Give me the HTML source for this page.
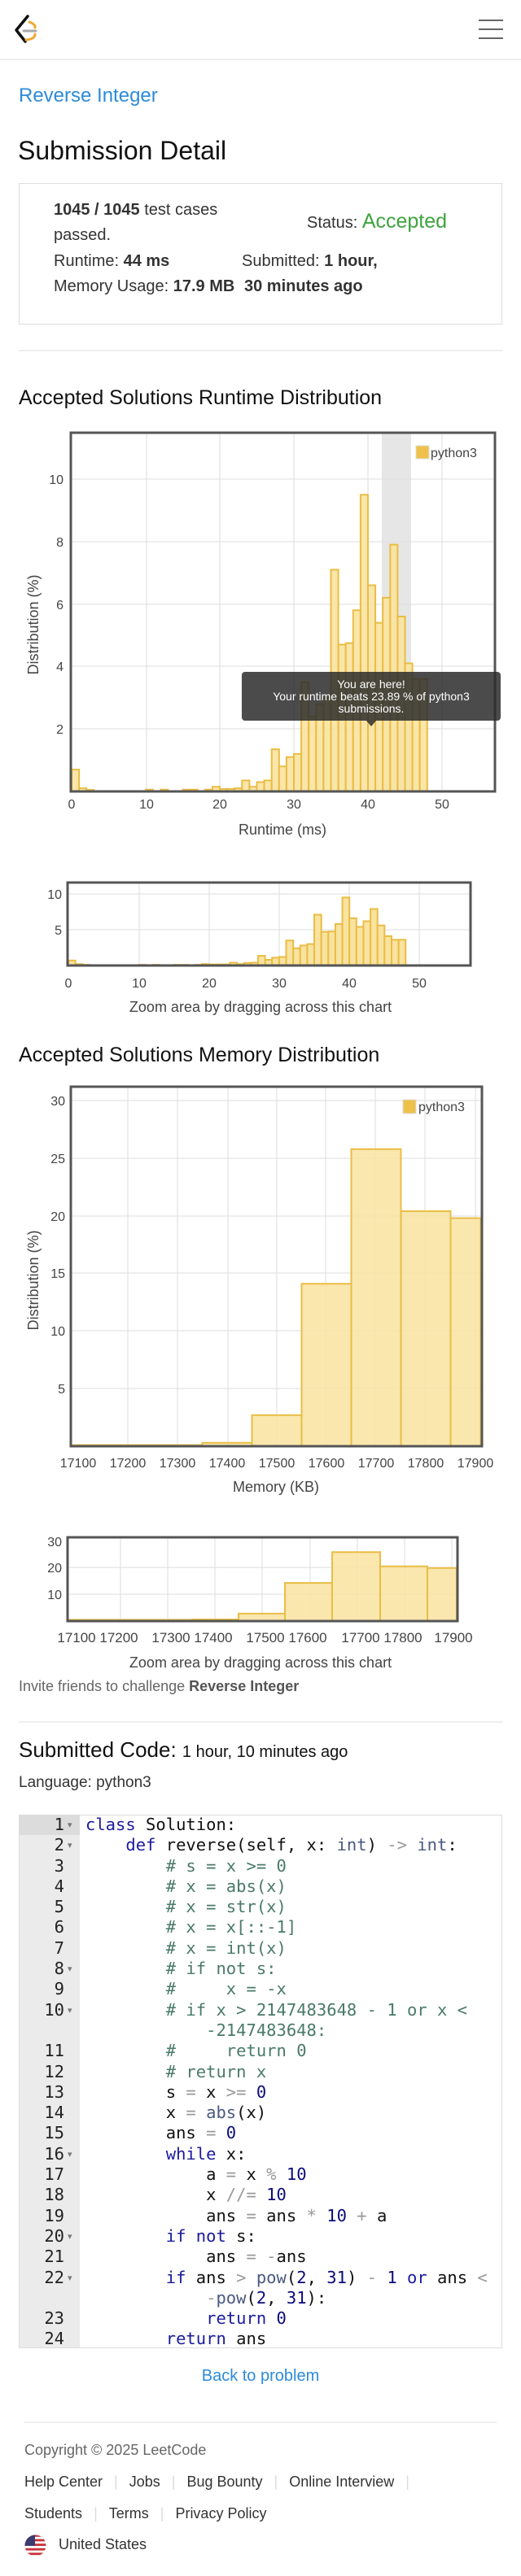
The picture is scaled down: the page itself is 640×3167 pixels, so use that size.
<!DOCTYPE html>
<html><head><meta charset="utf-8"><style>
*{margin:0;padding:0;box-sizing:border-box}
body{width:640px;height:3167px;position:relative;background:#fff;font-family:"Liberation Sans",sans-serif;color:#222;overflow:hidden}
.a{position:absolute;white-space:nowrap}
.code{font-family:"DejaVu Sans Mono","Liberation Mono",monospace;font-size:20.5px;line-height:25.3px;white-space:pre}
.k{color:#1b1b9e}.c{color:#4a7a6a}.n{color:#0b0b7a}.b{color:#4a5a80}.o{color:#999}
.f{font-size:18px;color:#333}
.sep{color:#ddd;margin:0 14px}
.fa{position:absolute;left:83px;font-size:11px;color:#777;line-height:12px}
</style></head><body>
<svg class="a" style="left:0;top:0" width="640" height="80">
<path d="M34 20 L20 37 L31 51" fill="none" stroke="#111" stroke-width="3.5" stroke-linecap="round" stroke-linejoin="round"/>
<path d="M36 27 Q44 30 43 34" fill="none" stroke="#f0a932" stroke-width="3" stroke-linecap="round"/>
<path d="M32 49 Q43 48 43 42" fill="none" stroke="#f0a932" stroke-width="3" stroke-linecap="round"/>
<line x1="29" y1="38" x2="44" y2="38" stroke="#aaa" stroke-width="3" stroke-linecap="round"/>
<line x1="588" y1="25" x2="618" y2="25" stroke="#666" stroke-width="2"/>
<line x1="588" y1="36" x2="618" y2="36" stroke="#666" stroke-width="2"/>
<line x1="588" y1="47" x2="618" y2="47" stroke="#666" stroke-width="2"/>
</svg>
<div class="a" style="left:0;top:72px;width:640px;height:2px;background:#eee"></div>
<div class="a" style="left:23px;top:104px;font-size:24px;color:#2d8bd8">Reverse Integer</div>
<div class="a" style="left:22px;top:167px;font-size:32px;color:#111">Submission Detail</div>
<div class="a" style="left:23px;top:225px;width:594px;height:174px;border:1.5px solid #ddd"></div>
<div class="a" style="left:66px;top:247px;font-size:20px;color:#333"><b>1045 / 1045</b> test cases</div>
<div class="a" style="left:66px;top:278px;font-size:20px;color:#333">passed.</div>
<div class="a" style="left:377px;top:258px;font-size:20px;color:#333">Status: <span style="color:#3fa33f;font-size:25px">Accepted</span></div>
<div class="a" style="left:66px;top:310px;font-size:20px;color:#333">Runtime: <b>44 ms</b></div>
<div class="a" style="left:297px;top:310px;font-size:20px;color:#333">Submitted: <b>1 hour,</b></div>
<div class="a" style="left:66px;top:341px;font-size:20px;color:#333">Memory Usage: <b>17.9 MB</b></div>
<div class="a" style="left:300px;top:341px;font-size:20px;color:#333"><b>30 minutes ago</b></div>
<div class="a" style="left:23px;top:430px;width:594px;height:1.5px;background:#eee"></div>
<div class="a" style="left:23px;top:475px;font-size:25px;color:#111">Accepted Solutions Runtime Distribution</div>
<div class="a" style="left:23px;top:1283px;font-size:25px;color:#111">Accepted Solutions Memory Distribution</div>

<svg class="a" style="left:0;top:0" width="640" height="2100" font-family="Liberation Sans, sans-serif">
<rect x="469" y="533" width="36" height="440" fill="#e6e6e6"/>
<g stroke="#ddd" stroke-width="1">
<line x1="180" y1="532" x2="180" y2="973"/><line x1="270" y1="532" x2="270" y2="973"/><line x1="361" y1="532" x2="361" y2="973"/><line x1="452" y1="532" x2="452" y2="973"/><line x1="543" y1="532" x2="543" y2="973"/>
<line x1="87" y1="589" x2="608" y2="589"/><line x1="87" y1="666" x2="608" y2="666"/><line x1="87" y1="743" x2="608" y2="743"/><line x1="87" y1="819" x2="608" y2="819"/><line x1="87" y1="896" x2="608" y2="896"/>
</g>
<g transform="translate(88,973) scale(9.1,-38.4)" fill="#f9e3a0" fill-opacity="0.9" stroke="#e9bd45" stroke-width="2">
<rect x="0" y="0" width="1" height="0.7" vector-effect="non-scaling-stroke"/><rect x="1" y="0" width="1" height="0.1" vector-effect="non-scaling-stroke"/><rect x="2" y="0" width="1" height="0.05" vector-effect="non-scaling-stroke"/>
<rect x="10" y="0" width="1" height="0.06" vector-effect="non-scaling-stroke"/><rect x="12" y="0" width="1" height="0.06" vector-effect="non-scaling-stroke"/><rect x="15" y="0" width="1" height="0.06" vector-effect="non-scaling-stroke"/><rect x="16" y="0" width="1" height="0.06" vector-effect="non-scaling-stroke"/><rect x="18" y="0" width="1" height="0.06" vector-effect="non-scaling-stroke"/>
<rect x="19" y="0" width="1" height="0.15" vector-effect="non-scaling-stroke"/><rect x="20" y="0" width="1" height="0.08" vector-effect="non-scaling-stroke"/><rect x="21" y="0" width="1" height="0.08" vector-effect="non-scaling-stroke"/><rect x="22" y="0" width="1" height="0.1" vector-effect="non-scaling-stroke"/><rect x="23" y="0" width="1" height="0.35" vector-effect="non-scaling-stroke"/><rect x="24" y="0" width="1" height="0.15" vector-effect="non-scaling-stroke"/><rect x="25" y="0" width="1" height="0.3" vector-effect="non-scaling-stroke"/><rect x="26" y="0" width="1" height="0.35" vector-effect="non-scaling-stroke"/>
<rect x="27" y="0" width="1" height="1.35" vector-effect="non-scaling-stroke"/><rect x="28" y="0" width="1" height="0.8" vector-effect="non-scaling-stroke"/><rect x="29" y="0" width="1" height="1.1" vector-effect="non-scaling-stroke"/><rect x="30" y="0" width="1" height="1.2" vector-effect="non-scaling-stroke"/>
<rect x="31" y="0" width="1" height="3.5" vector-effect="non-scaling-stroke"/><rect x="32" y="0" width="1" height="2.4" vector-effect="non-scaling-stroke"/><rect x="33" y="0" width="1" height="2.8" vector-effect="non-scaling-stroke"/><rect x="34" y="0" width="1" height="3.0" vector-effect="non-scaling-stroke"/>
<rect x="35" y="0" width="1" height="7.1" vector-effect="non-scaling-stroke"/><rect x="36" y="0" width="1" height="4.7" vector-effect="non-scaling-stroke"/><rect x="37" y="0" width="1" height="4.75" vector-effect="non-scaling-stroke"/><rect x="38" y="0" width="1" height="5.8" vector-effect="non-scaling-stroke"/><rect x="39" y="0" width="1" height="9.5" vector-effect="non-scaling-stroke"/><rect x="40" y="0" width="1" height="6.6" vector-effect="non-scaling-stroke"/><rect x="41" y="0" width="1" height="5.4" vector-effect="non-scaling-stroke"/><rect x="42" y="0" width="1" height="6.2" vector-effect="non-scaling-stroke"/><rect x="43" y="0" width="1" height="7.9" vector-effect="non-scaling-stroke"/><rect x="44" y="0" width="1" height="5.6" vector-effect="non-scaling-stroke"/><rect x="45" y="0" width="1" height="4.1" vector-effect="non-scaling-stroke"/><rect x="46" y="0" width="1" height="3.6" vector-effect="non-scaling-stroke"/><rect x="47" y="0" width="1" height="3.6" vector-effect="non-scaling-stroke"/>
</g>
<rect x="87" y="532" width="521" height="441" fill="none" stroke="#555" stroke-width="3"/>
<rect x="511" y="548" width="16" height="16" fill="#eec14a" stroke="#ddd"/>
<text x="529" y="562" font-size="16" fill="#444">python3</text>
<g font-size="16" fill="#444" text-anchor="end"><text x="78" y="595">10</text><text x="78" y="672">8</text><text x="78" y="749">6</text><text x="78" y="825">4</text><text x="78" y="902">2</text></g>
<g font-size="16" fill="#444" text-anchor="middle"><text x="88" y="994">0</text><text x="180" y="994">10</text><text x="270" y="994">20</text><text x="361" y="994">30</text><text x="452" y="994">40</text><text x="543" y="994">50</text></g>
<text x="347" y="1026" font-size="18" fill="#444" text-anchor="middle">Runtime (ms)</text>
<text transform="translate(47,768) rotate(-90)" font-size="18" fill="#444" text-anchor="middle">Distribution (%)</text>
<rect x="297" y="826" width="318" height="60" rx="4" fill="#2c2c2c" fill-opacity="0.85"/>
<path d="M450 886 L462 886 L456 893 Z" fill="#2c2c2c" fill-opacity="0.85"/>
<g font-size="14" fill="#fff" text-anchor="middle"><text x="456" y="846">You are here!</text><text x="456" y="861">Your runtime beats 23.89 % of python3</text><text x="456" y="876">submissions.</text></g>

<g stroke="#ddd"><line x1="171" y1="1084" x2="171" y2="1187"/><line x1="257" y1="1084" x2="257" y2="1187"/><line x1="343" y1="1084" x2="343" y2="1187"/><line x1="429" y1="1084" x2="429" y2="1187"/><line x1="515" y1="1084" x2="515" y2="1187"/><line x1="83" y1="1099" x2="578" y2="1099"/><line x1="83" y1="1143" x2="578" y2="1143"/></g>
<g transform="translate(84,1187) scale(8.63,-8.8)" fill="#f9e3a0" stroke="#e9bd45" stroke-width="2">
<rect x="0" y="0" width="1" height="0.7" vector-effect="non-scaling-stroke"/><rect x="1" y="0" width="1" height="0.2" vector-effect="non-scaling-stroke"/><rect x="2" y="0" width="1" height="0.1" vector-effect="non-scaling-stroke"/>
<rect x="10" y="0" width="1" height="0.1" vector-effect="non-scaling-stroke"/><rect x="12" y="0" width="1" height="0.1" vector-effect="non-scaling-stroke"/><rect x="15" y="0" width="2" height="0.1" vector-effect="non-scaling-stroke"/><rect x="18" y="0" width="1" height="0.1" vector-effect="non-scaling-stroke"/>
<rect x="19" y="0" width="1" height="0.2" vector-effect="non-scaling-stroke"/><rect x="20" y="0" width="3" height="0.15" vector-effect="non-scaling-stroke"/><rect x="23" y="0" width="1" height="0.4" vector-effect="non-scaling-stroke"/><rect x="24" y="0" width="1" height="0.2" vector-effect="non-scaling-stroke"/><rect x="25" y="0" width="1" height="0.35" vector-effect="non-scaling-stroke"/><rect x="26" y="0" width="1" height="0.4" vector-effect="non-scaling-stroke"/>
<rect x="27" y="0" width="1" height="1.35" vector-effect="non-scaling-stroke"/><rect x="28" y="0" width="1" height="0.8" vector-effect="non-scaling-stroke"/><rect x="29" y="0" width="1" height="1.1" vector-effect="non-scaling-stroke"/><rect x="30" y="0" width="1" height="1.2" vector-effect="non-scaling-stroke"/>
<rect x="31" y="0" width="1" height="3.5" vector-effect="non-scaling-stroke"/><rect x="32" y="0" width="1" height="2.4" vector-effect="non-scaling-stroke"/><rect x="33" y="0" width="1" height="2.8" vector-effect="non-scaling-stroke"/><rect x="34" y="0" width="1" height="3.0" vector-effect="non-scaling-stroke"/>
<rect x="35" y="0" width="1" height="7.1" vector-effect="non-scaling-stroke"/><rect x="36" y="0" width="1" height="4.7" vector-effect="non-scaling-stroke"/><rect x="37" y="0" width="1" height="4.75" vector-effect="non-scaling-stroke"/><rect x="38" y="0" width="1" height="5.8" vector-effect="non-scaling-stroke"/><rect x="39" y="0" width="1" height="9.5" vector-effect="non-scaling-stroke"/><rect x="40" y="0" width="1" height="6.6" vector-effect="non-scaling-stroke"/><rect x="41" y="0" width="1" height="5.4" vector-effect="non-scaling-stroke"/><rect x="42" y="0" width="1" height="6.2" vector-effect="non-scaling-stroke"/><rect x="43" y="0" width="1" height="7.9" vector-effect="non-scaling-stroke"/><rect x="44" y="0" width="1" height="5.6" vector-effect="non-scaling-stroke"/><rect x="45" y="0" width="1" height="4.1" vector-effect="non-scaling-stroke"/><rect x="46" y="0" width="1" height="3.6" vector-effect="non-scaling-stroke"/><rect x="47" y="0" width="1" height="3.6" vector-effect="non-scaling-stroke"/>
</g>
<rect x="83" y="1085" width="495" height="102" fill="none" stroke="#555" stroke-width="3"/>
<g font-size="16" fill="#444" text-anchor="end"><text x="76" y="1105">10</text><text x="76" y="1149">5</text></g>
<g font-size="16" fill="#444" text-anchor="middle"><text x="84" y="1214">0</text><text x="171" y="1214">10</text><text x="257" y="1214">20</text><text x="343" y="1214">30</text><text x="429" y="1214">40</text><text x="515" y="1214">50</text></g>
<text x="320" y="1244" font-size="18" fill="#444" text-anchor="middle">Zoom area by dragging across this chart</text>

<g stroke="#ddd"><line x1="157" y1="1336" x2="157" y2="1778"/><line x1="218" y1="1336" x2="218" y2="1778"/><line x1="280" y1="1336" x2="280" y2="1778"/><line x1="340" y1="1336" x2="340" y2="1778"/><line x1="400" y1="1336" x2="400" y2="1778"/><line x1="461" y1="1336" x2="461" y2="1778"/><line x1="522" y1="1336" x2="522" y2="1778"/><line x1="584" y1="1336" x2="584" y2="1778"/>
<line x1="87" y1="1353" x2="592" y2="1353"/><line x1="87" y1="1424" x2="592" y2="1424"/><line x1="87" y1="1495" x2="592" y2="1495"/><line x1="87" y1="1565" x2="592" y2="1565"/><line x1="87" y1="1636" x2="592" y2="1636"/><line x1="87" y1="1707" x2="592" y2="1707"/></g>
<g fill="#f9e3a0" fill-opacity="0.85" stroke="#e9bd45" stroke-width="2">
<rect x="88" y="1776.6" width="160.5" height="1.4"/><rect x="248.5" y="1773.8" width="61" height="4.2"/><rect x="309.5" y="1739.8" width="61" height="38.2"/><rect x="370.5" y="1578.3" width="61" height="199.7"/><rect x="431.5" y="1412.7" width="61" height="365.3"/><rect x="492.5" y="1489.1" width="61" height="288.9"/><rect x="553.5" y="1497.6" width="37" height="280.4"/>
</g>
<rect x="87" y="1336" width="505" height="442" fill="none" stroke="#555" stroke-width="3"/>
<rect x="495" y="1352" width="16" height="17" fill="#eec14a" stroke="#ddd"/>
<text x="514" y="1366" font-size="16" fill="#444">python3</text>
<g font-size="16" fill="#444" text-anchor="end"><text x="80" y="1359">30</text><text x="80" y="1430">25</text><text x="80" y="1501">20</text><text x="80" y="1571">15</text><text x="80" y="1642">10</text><text x="80" y="1713">5</text></g>
<g font-size="16" fill="#444" text-anchor="middle"><text x="96" y="1804">17100</text><text x="157" y="1804">17200</text><text x="218" y="1804">17300</text><text x="279" y="1804">17400</text><text x="340" y="1804">17500</text><text x="401" y="1804">17600</text><text x="462" y="1804">17700</text><text x="523" y="1804">17800</text><text x="584" y="1804">17900</text></g>
<text x="339" y="1834" font-size="18" fill="#444" text-anchor="middle">Memory (KB)</text>
<text transform="translate(47,1574) rotate(-90)" font-size="18" fill="#444" text-anchor="middle">Distribution (%)</text>

<g stroke="#ddd"><line x1="148" y1="1889" x2="148" y2="1993"/><line x1="206" y1="1889" x2="206" y2="1993"/><line x1="264" y1="1889" x2="264" y2="1993"/><line x1="322" y1="1889" x2="322" y2="1993"/><line x1="381" y1="1889" x2="381" y2="1993"/><line x1="439" y1="1889" x2="439" y2="1993"/><line x1="497" y1="1889" x2="497" y2="1993"/><line x1="555" y1="1889" x2="555" y2="1993"/>
<line x1="83" y1="1927" x2="562" y2="1927"/><line x1="83" y1="1960" x2="562" y2="1960"/></g>
<g fill="#f9e3a0" fill-opacity="0.85" stroke="#e9bd45" stroke-width="2">
<rect x="84" y="1991.4" width="152" height="1.6"/><rect x="236" y="1991" width="57" height="2"/><rect x="293" y="1983.8" width="57" height="9.2"/><rect x="350" y="1946.1" width="58" height="46.9"/><rect x="408" y="1908.2" width="59" height="84.8"/><rect x="467" y="1925.7" width="58" height="67.3"/><rect x="525" y="1927.7" width="36" height="65.3"/>
</g>
<rect x="83" y="1890" width="479" height="103" fill="none" stroke="#555" stroke-width="3"/>
<g font-size="16" fill="#444" text-anchor="end"><text x="76" y="1901">30</text><text x="76" y="1933">20</text><text x="76" y="1966">10</text></g>
<g font-size="17" fill="#444" text-anchor="middle"><text x="94" y="2019">17100</text><text x="146" y="2019">17200</text><text x="210" y="2019">17300</text><text x="262" y="2019">17400</text><text x="326" y="2019">17500</text><text x="378" y="2019">17600</text><text x="443" y="2019">17700</text><text x="495" y="2019">17800</text><text x="557" y="2019">17900</text></g>
<text x="320" y="2050" font-size="18" fill="#444" text-anchor="middle">Zoom area by dragging across this chart</text>
</svg>

<div class="a" style="left:23px;top:2063px;font-size:18px;color:#666">Invite friends to challenge <b style="color:#555">Reverse Integer</b></div>
<div class="a" style="left:23px;top:2116px;width:594px;height:1.5px;background:#eee"></div>
<div class="a" style="left:23px;top:2136px;font-size:26px;color:#111">Submitted Code: <span style="font-size:20px">1 hour, 10 minutes ago</span></div>
<div class="a" style="left:23px;top:2181px;font-size:19px;color:#333">Language: python3</div>

<div class="a" style="left:23px;top:2231px;width:594px;height:656px;border:1px solid #ddd;background:#fff"></div>
<div class="a" style="left:24px;top:2232px;width:74px;height:654px;background:#ebebeb"></div>
<div class="a" style="left:24px;top:2232px;width:74px;height:24px;background:#dcdcdc"></div>
<div class="a code" style="left:24px;top:2231px;width:55px;text-align:right;color:#222">1
2
3
4
5
6
7
8
9
10

11
12
13
14
15
16
17
18
19
20
21
22

23
24</div>
<div class="fa" style="top:2238px">▾</div>
<div class="fa" style="top:2263px">▾</div>
<div class="fa" style="top:2415px">▾</div>
<div class="fa" style="top:2466px">▾</div>
<div class="fa" style="top:2643px">▾</div>
<div class="fa" style="top:2744px">▾</div>
<div class="fa" style="top:2795px">▾</div>
<div class="a code" style="left:105px;top:2231px;color:#111"><span class="k">class</span> Solution:
    <span class="k">def</span> reverse(self, x: <span class="b">int</span>) <span class="o">-&gt;</span> <span class="b">int</span>:
        <span class="c"># s = x &gt;= 0</span>
        <span class="c"># x = abs(x)</span>
        <span class="c"># x = str(x)</span>
        <span class="c"># x = x[::-1]</span>
        <span class="c"># x = int(x)</span>
        <span class="c"># if not s:</span>
        <span class="c">#     x = -x</span>
        <span class="c"># if x &gt; 2147483648 - 1 or x &lt;</span>
<span class="c">            -2147483648:</span>
        <span class="c">#     return 0</span>
        <span class="c"># return x</span>
        s <span class="o">=</span> x <span class="o">&gt;=</span> <span class="n">0</span>
        x <span class="o">=</span> <span class="b">abs</span>(x)
        ans <span class="o">=</span> <span class="n">0</span>
        <span class="k">while</span> x:
            a <span class="o">=</span> x <span class="o">%</span> <span class="n">10</span>
            x <span class="o">//=</span> <span class="n">10</span>
            ans <span class="o">=</span> ans <span class="o">*</span> <span class="n">10</span> <span class="o">+</span> a
        <span class="k">if</span> <span class="k">not</span> s:
            ans <span class="o">=</span> <span class="o">-</span>ans
        <span class="k">if</span> ans <span class="o">&gt;</span> <span class="b">pow</span>(<span class="n">2</span>, <span class="n">31</span>) <span class="o">-</span> <span class="n">1</span> <span class="k">or</span> ans <span class="o">&lt;</span>
            <span class="o">-</span><span class="b">pow</span>(<span class="n">2</span>, <span class="n">31</span>):
            <span class="k">return</span> <span class="n">0</span>
        <span class="k">return</span> ans</div>

<div class="a" style="left:0;top:2910px;width:640px;text-align:center;font-size:20px;color:#2d8bd8">Back to problem</div>
<div class="a" style="left:30px;top:2977px;width:580px;height:1.5px;background:#eee"></div>
<div class="a" style="left:30px;top:3002px;font-size:18px;color:#666">Copyright © 2025 LeetCode</div>
<div class="a f" style="left:30px;top:3041px">Help Center<span class="sep">|</span>Jobs<span class="sep">|</span>Bug Bounty<span class="sep">|</span>Online Interview<span class="sep">|</span></div>
<div class="a f" style="left:30px;top:3080px">Students<span class="sep">|</span>Terms<span class="sep">|</span>Privacy Policy</div>
<svg class="a" style="left:30px;top:3116px" width="27" height="27" viewBox="0 0 27 27">
<defs><clipPath id="cp"><circle cx="13.5" cy="13.5" r="13"/></clipPath></defs>
<g clip-path="url(#cp)"><rect width="27" height="27" fill="#fff"/>
<rect y="0" width="27" height="2.8" fill="#c8323c"/><rect y="5.6" width="27" height="2.8" fill="#c8323c"/><rect y="11.2" width="27" height="2.8" fill="#c8323c"/><rect y="16.8" width="27" height="2.8" fill="#c8323c"/><rect y="22.4" width="27" height="2.8" fill="#c8323c"/>
<rect width="13" height="14" fill="#3c3b6e"/></g></svg>
<div class="a f" style="left:72px;top:3118px">United States</div>
</body></html>
